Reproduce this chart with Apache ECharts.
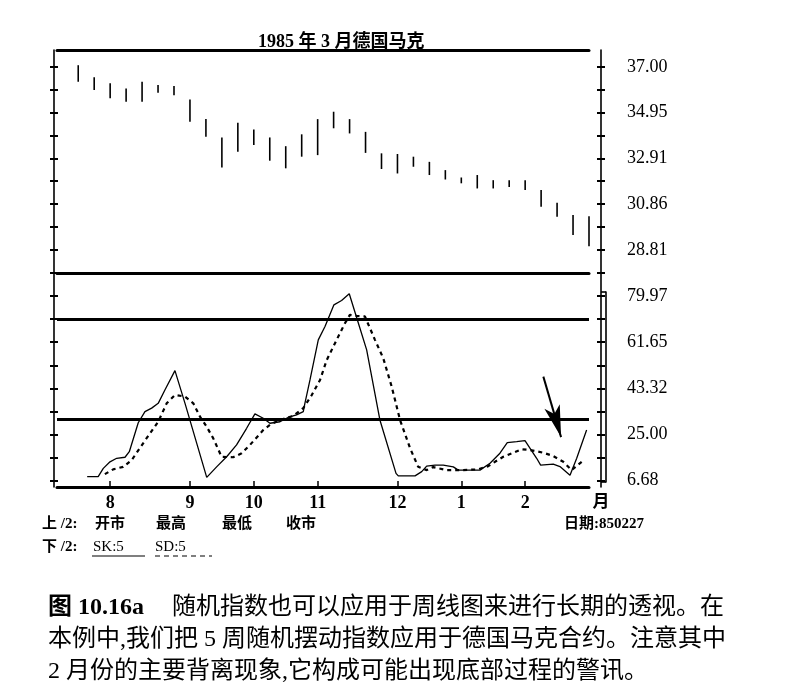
<!DOCTYPE html>
<html>
<head>
<meta charset="utf-8">
<script src="https://cdn.jsdelivr.net/npm/echarts@6/dist/echarts.min.js"></script>
<style>html,body{margin:0;padding:0;background:#fff}#c{width:801px;height:699px}</style>
</head>
<body>
<div id="c"></div>
<script>
// ---- Weekly price bars (Deutsche Mark, March 1985 contract) ----
const weeks = [0,1,2,3,4,5,6,7,8,9,10,11,12,13,14,15,16,17,18,19,20,21,22,23,24,25,26,27,28,29,30,31,32];
const priceHigh = [37.07,36.53,36.26,36.03,36.33,36.18,36.14,35.54,34.66,33.84,34.50,34.20,33.84,33.45,33.98,34.66,34.99,34.66,34.09,33.13,33.10,32.98,32.75,32.38,32.05,32.16,31.93,31.93,31.93,31.49,30.92,30.37,30.32];
const priceLow  = [36.33,35.96,35.59,35.44,35.44,35.84,35.73,34.54,33.87,32.50,33.20,33.50,32.80,32.46,32.98,33.05,34.25,34.02,33.15,32.43,32.23,32.53,32.16,31.96,31.79,31.56,31.56,31.63,31.49,30.74,30.29,29.48,28.98];

// ---- 5-week stochastic: SK (solid) ----
const skWeek  = [0.56,1.25,1.57,1.99,2.41,2.93,3.20,3.76,4.18,4.60,5.01,5.43,6.06,6.69,8.05,8.67,9.30,9.92,10.55,11.07,11.59,12.01,12.64,13.14,13.68,14.10,14.20,14.52,15.04,15.46,16.02,16.50,16.98,17.65,18.07,18.90,19.91,20.05,21.10,21.52,21.83,22.35,22.87,23.50,23.81,25.17,25.80,26.42,26.88,27.47,27.99,28.72,28.97,29.76,30.18,30.81,31.23,31.85];
const skValue = [8.3,8.3,11.6,14.2,15.6,16.0,18.2,29.7,34.1,35.5,37.4,42.7,50.4,37.4,8.0,12.2,16.2,20.9,27.5,33.2,31.5,29.5,30.1,31.8,32.8,34.1,37.4,46.7,62.6,67.9,76.5,78.2,80.9,67.2,58.6,30.8,9.6,8.6,8.6,10.3,12.5,12.9,12.9,12.2,10.9,10.9,13.6,17.6,21.8,22.2,22.6,15.6,12.9,13.3,12.3,8.9,15.6,26.8];

// ---- 5-week stochastic: SD (dashed) ----
const sdWeek  = [1.67,2.19,2.82,3.35,4.18,5.01,5.54,6.06,6.69,7.21,7.63,8.05,8.46,8.98,9.71,10.24,10.76,11.59,12.01,12.64,13.47,14.10,14.63,15.15,15.57,16.19,16.71,17.02,17.44,17.96,18.59,19.11,19.64,20.16,20.79,21.30,21.83,22.24,23.08,24.04,25.06,25.69,26.11,26.63,27.26,27.78,28.30,29.14,29.76,30.39,30.91,31.54];
const sdValue = [9.3,11.2,12.2,14.9,22.6,30.1,37.4,40.7,40.1,37.4,32.1,28.1,23.5,16.2,16.0,17.6,20.9,26.8,28.9,30.8,32.4,35.5,40.7,46.7,54.6,62.6,69.2,72.5,72.1,71.9,62.6,55.3,44.0,30.8,19.6,12.2,10.9,12.1,10.9,10.9,11.2,12.5,14.2,16.2,17.8,19.2,18.9,17.8,16.5,14.2,10.9,14.2];

// ---- Axis ticks / labels ----
const monthTickWeeks = [2,7,11,15,20,24,28];
const monthLabels = ['8','9','10','11','12','1','2'];
const priceLabelValues = [37.00,34.95,32.91,30.86,28.81];
const priceTickValues = [37.00,35.975,34.95,33.93,32.91,31.885,30.86,29.835,28.81,27.785];
const oscLabelValues = [6.68,25.00,43.32,61.65,79.97];
const oscTickValues = [6.68,15.84,25.00,34.16,43.32,52.49,61.65,70.81,79.97,89.13];
const oscLevels = [70.81, 31.0];
const arrowFrom = [29.14, 48.0];
const arrowTo = [30.25, 24.0];

const SERIF = '"Liberation Serif","Noto Sans CJK SC",serif';
const CJK = '"Liberation Serif","Noto Sans CJK SC",sans-serif';

const X_MIN = -1.33, X_MAX = 32.0;
const gridL = 57, gridR = 212;

function yAxisPair(gridIndex, side, offset, min, max, ticks, labels) {
  const main = {
    type: 'value', gridIndex, position: side, offset, min, max,
    splitLine: {show: false},
    axisLine: {show: true, onZero: false, lineStyle: {color: '#000', width: 1.6}},
    axisTick: {show: true, customValues: ticks, length: 4, lineStyle: {color: '#000', width: 2}},
    axisLabel: labels ? {
      show: true, customValues: labels, margin: 26,
      formatter: v => Number(v).toFixed(2),
      color: '#000', fontSize: 18, fontFamily: SERIF,
      verticalAlign: 'middle', padding: [0, 0, 10, 0]
    } : {show: false}
  };
  const inner = {
    type: 'value', gridIndex, position: side, offset, min, max,
    splitLine: {show: false}, axisLine: {show: false, onZero: false},
    axisTick: {show: true, inside: true, customValues: ticks, length: 4, lineStyle: {color: '#000', width: 2}},
    axisLabel: {show: false}
  };
  return [main, inner];
}

const yAxes = [].concat(
  yAxisPair(0, 'right', 12, 27.78, 37.75, priceTickValues, priceLabelValues), // 0,1
  yAxisPair(0, 'left', 3, 27.78, 37.75, priceTickValues, null),               // 2,3
  yAxisPair(1, 'right', 12, 4.2, 89.13, oscTickValues, oscLabelValues),       // 4,5
  yAxisPair(1, 'left', 3, 4.2, 89.13, oscTickValues, null),                   // 6,7
  [{ // bracket at right of oscillator panel
    type: 'value', gridIndex: 2, position: 'right', offset: 17, min: 0, max: 1,
    splitLine: {show: false},
    axisLine: {show: true, onZero: false, lineStyle: {color: '#000', width: 1.6}},
    axisTick: {show: true, inside: true, customValues: [0, 1], length: 5, lineStyle: {color: '#000', width: 1.6}},
    axisLabel: {show: false}
  }]
);

const option = {
  backgroundColor: '#fff',
  animation: false,
  title: {
    text: '1985 年 3 月德国马克', left: 253, top: 28,
    textStyle: {fontSize: 18, fontWeight: 'bold', color: '#000', fontFamily: CJK}
  },
  grid: [
    {left: gridL, right: gridR, top: 50, height: 223},
    {left: gridL, right: gridR, top: 273, height: 214},
    {left: gridL, right: gridR, top: 292, height: 190}
  ],
  xAxis: [
    {type: 'value', gridIndex: 0, position: 'top', min: X_MIN, max: X_MAX,
     splitLine: {show: false}, axisTick: {show: false}, axisLabel: {show: false},
     axisLine: {show: true, onZero: false, lineStyle: {color: '#000', width: 3}}},
    {type: 'value', gridIndex: 1, position: 'top', min: X_MIN, max: X_MAX,
     splitLine: {show: false}, axisTick: {show: false}, axisLabel: {show: false},
     axisLine: {show: true, onZero: false, lineStyle: {color: '#000', width: 3}}},
    {type: 'value', gridIndex: 1, position: 'bottom', min: X_MIN, max: X_MAX,
     splitLine: {show: false},
     axisLine: {show: true, onZero: false, lineStyle: {color: '#000', width: 3}},
     axisTick: {show: true, inside: true, customValues: monthTickWeeks, length: 6, lineStyle: {color: '#000', width: 1.5}},
     axisLabel: {show: true, customValues: monthTickWeeks, margin: 7,
       formatter: v => monthLabels[monthTickWeeks.indexOf(Math.round(v))] || '',
       color: '#000', fontSize: 18, fontWeight: 'bold', fontFamily: SERIF},
     name: '月', nameLocation: 'end', nameGap: 12,
     nameTextStyle: {color: '#000', fontSize: 17, fontWeight: 'bold', fontFamily: CJK,
       align: 'center', verticalAlign: 'top', padding: [7, 0, 0, 0]}},
    {type: 'value', gridIndex: 2, min: X_MIN, max: X_MAX, show: false}
  ],
  yAxis: yAxes,
  series: [
    {
      name: '价格', type: 'custom', xAxisIndex: 0, yAxisIndex: 0,
      data: weeks.map((w, i) => [w, priceHigh[i], priceLow[i]]),
      encode: {x: 0, y: [1, 2]},
      renderItem: (params, api) => {
        const x = api.value(0);
        const a = api.coord([x, api.value(1)]);
        const b = api.coord([x, api.value(2)]);
        return {type: 'line', shape: {x1: a[0], y1: a[1], x2: b[0], y2: b[1]},
                style: {stroke: '#000', lineWidth: 1.6}};
      }
    },
    {
      name: 'SK:5', type: 'line', xAxisIndex: 2, yAxisIndex: 4,
      data: skWeek.map((w, i) => [w, skValue[i]]),
      symbol: 'none', lineStyle: {color: '#000', width: 1.3}, z: 3,
      markLine: {
        silent: true, symbol: 'none', label: {show: false},
        lineStyle: {color: '#000', width: 3, type: 'solid'},
        data: oscLevels.map(v => ({yAxis: v}))
      }
    },
    {
      name: 'SD:5', type: 'line', xAxisIndex: 2, yAxisIndex: 4,
      data: sdWeek.map((w, i) => [w, sdValue[i]]),
      symbol: 'none', lineStyle: {color: '#000', width: 2.2, type: [4, 4]}, z: 3,
      markLine: {
        silent: true, label: {show: false},
        symbol: ['none', 'arrow'], symbolSize: [12, 32],
        lineStyle: {color: '#000', width: 2, type: 'solid'},
        data: [[{coord: arrowFrom}, {coord: arrowTo}]]
      }
    }
  ],
  graphic: [
    {type: 'text', style: {text: '上 /2:', x: 42, y: 524, verticalAlign: 'middle', fill: '#000', font: 'bold 15px ' + CJK}},
    {type: 'text', style: {text: '开市', x: 95, y: 524, verticalAlign: 'middle', fill: '#000', font: 'bold 15px ' + CJK}},
    {type: 'text', style: {text: '最高', x: 156, y: 524, verticalAlign: 'middle', fill: '#000', font: 'bold 15px ' + CJK}},
    {type: 'text', style: {text: '最低', x: 222, y: 524, verticalAlign: 'middle', fill: '#000', font: 'bold 15px ' + CJK}},
    {type: 'text', style: {text: '收市', x: 286, y: 524, verticalAlign: 'middle', fill: '#000', font: 'bold 15px ' + CJK}},
    {type: 'text', style: {text: '日期:850227', x: 564, y: 524, verticalAlign: 'middle', fill: '#000', font: 'bold 15px ' + CJK}},
    {type: 'text', style: {text: '下 /2:', x: 42, y: 547, verticalAlign: 'middle', fill: '#000', font: 'bold 15px ' + CJK}},
    {type: 'text', style: {text: 'SK:5', x: 93, y: 547, verticalAlign: 'middle', fill: '#000', font: '15px ' + SERIF}},
    {type: 'line', shape: {x1: 92, y1: 556, x2: 145, y2: 556}, style: {stroke: '#000', lineWidth: 1.2}},
    {type: 'text', style: {text: 'SD:5', x: 155, y: 547, verticalAlign: 'middle', fill: '#000', font: '15px ' + SERIF}},
    {type: 'line', shape: {x1: 155, y1: 556, x2: 212, y2: 556}, style: {stroke: '#000', lineWidth: 1.2, lineDash: [5, 4]}},
    {type: 'text', style: {text: '图 10.16a', x: 48, y: 608, verticalAlign: 'middle', fill: '#000', font: 'bold 24px ' + CJK}},
    {type: 'text', style: {text: '随机指数也可以应用于周线图来进行长期的透视。在', x: 172, y: 608, verticalAlign: 'middle', fill: '#000', font: '24px ' + CJK}},
    {type: 'text', style: {text: '本例中,我们把 5 周随机摆动指数应用于德国马克合约。注意其中', x: 48, y: 640, verticalAlign: 'middle', fill: '#000', font: '24px ' + CJK}},
    {type: 'text', style: {text: '2 月份的主要背离现象,它构成可能出现底部过程的警讯。', x: 48, y: 672, verticalAlign: 'middle', fill: '#000', font: '24px ' + CJK}}
  ]
};

const chart = echarts.init(document.getElementById('c'), null, {renderer: 'canvas'});
chart.setOption(option);
</script>
</body>
</html>
